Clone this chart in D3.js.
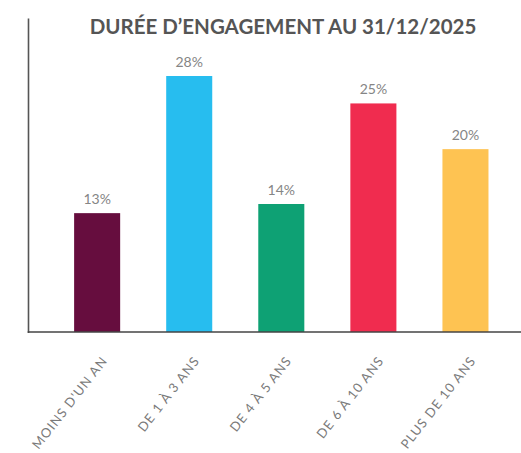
<!DOCTYPE html>
<html>
<head>
<meta charset="utf-8">
<script src="https://cdn.jsdelivr.net/npm/d3@7"></script>
<style>
  html, body { margin: 0; padding: 0; background: #fff; }
  svg { display: block; font-family: "Lato", "Open Sans", sans-serif; }
</style>
</head>
<body>
<div id="chart"></div>
<script>
// data
const categories = ["MOINS D'UN AN", "DE 1 À 3 ANS", "DE 4 À 5 ANS", "DE 6 À 10 ANS", "PLUS DE 10 ANS"];
const values = [0.13, 0.28, 0.14, 0.25, 0.20];
const barColors = ["#660d3e", "#27bdef", "#0ea174", "#f02c4f", "#fec352"];
const title = "DURÉE D\u2019ENGAGEMENT AU 31/12/2025";

const width = 521, height = 453;
const axisX = 28.5, baseY = 332, topY = 18.5;

const svg = d3.select("#chart").append("svg")
    .attr("width", width)
    .attr("height", height)
    .attr("viewBox", `0 0 ${width} ${height}`);

// scales
const x = d3.scaleBand()
    .domain(categories)
    .range([29, 533.6])
    .paddingInner(0.5)
    .paddingOuter(0.49);

const y = d3.scaleLinear()
    .domain([0, 0.28])
    .range([baseY, 76]);

// bars
svg.selectAll(".bar")
    .data(categories)
    .enter()
    .append("rect")
    .attr("class", "bar")
    .attr("x", d => x(d))
    .attr("y", (d, i) => y(values[i]))
    .attr("width", x.bandwidth())
    .attr("height", (d, i) => baseY - y(values[i]))
    .attr("fill", (d, i) => barColors[i]);

// value labels
svg.selectAll(".value")
    .data(categories)
    .enter()
    .append("text")
    .attr("class", "value")
    .attr("x", d => x(d) + x.bandwidth() / 2)
    .attr("y", (d, i) => y(values[i]) - 9)
    .attr("text-anchor", "middle")
    .attr("font-size", "14px")
    .attr("fill", "#858585")
    .text((d, i) => Math.round(values[i] * 100) + "%");

// axes lines
svg.append("line")
    .attr("x1", axisX).attr("x2", axisX)
    .attr("y1", topY).attr("y2", baseY + 1)
    .attr("stroke", "#555").attr("stroke-width", 1.6);

svg.append("line")
    .attr("x1", axisX - 0.8).attr("x2", width)
    .attr("y1", baseY).attr("y2", baseY)
    .attr("stroke", "#444").attr("stroke-width", 1.6);

// category labels, rotated
svg.selectAll(".cat")
    .data(categories)
    .enter()
    .append("text")
    .attr("class", "cat")
    .attr("transform", d => `translate(${x(d) + x.bandwidth() / 2 + 11}, ${361}) rotate(-52)`)
    .attr("text-anchor", "end")
    .attr("font-size", "13px")
    .attr("letter-spacing", "1px")
    .attr("fill", "#7a7a7a")
    .text(d => d);

// title
svg.append("text")
    .attr("x", 283)
    .attr("y", 34)
    .attr("text-anchor", "middle")
    .attr("font-size", "20.5px")
    .attr("font-weight", "bold")
    .attr("fill", "#555")
    .text(title);
</script>
</body>
</html>
